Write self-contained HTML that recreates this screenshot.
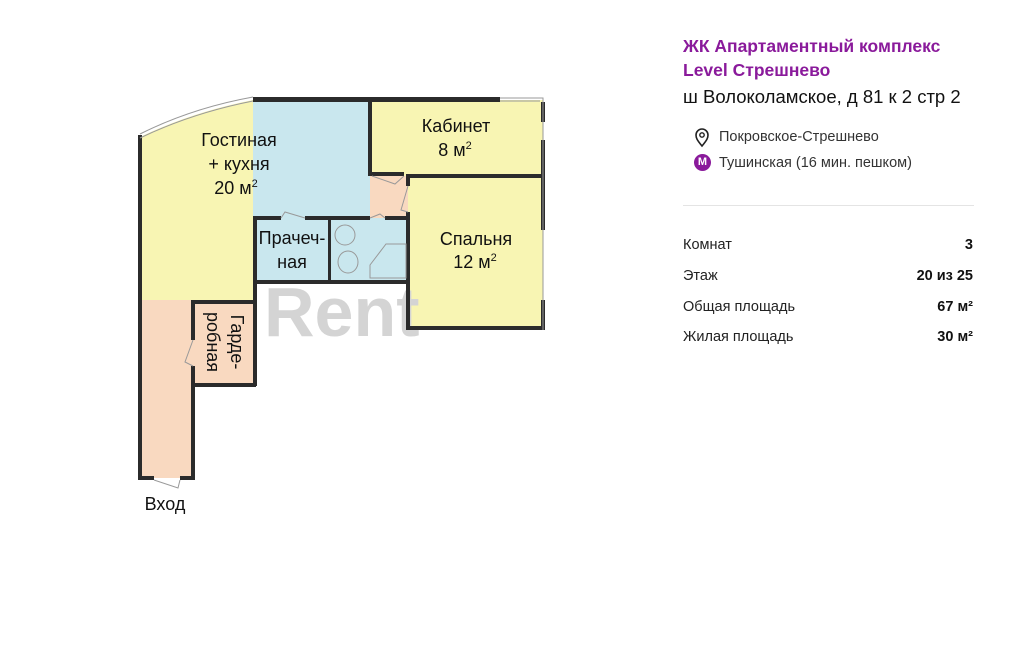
<!DOCTYPE html>
<html><head><meta charset="utf-8"><style>
html,body{margin:0;padding:0;background:#fff;width:1024px;height:648px;overflow:hidden;font-family:"Liberation Sans",sans-serif}
.r{position:absolute;left:683px;font-size:14.5px;color:#222}
.v{position:absolute;right:51px;font-size:14.5px;font-weight:bold;color:#111}
</style></head><body>
<svg width="1024" height="648" style="position:absolute;left:0;top:0" font-family="Liberation Sans, sans-serif">
<path d="M140,137 Q192,112 253,100 L253,300 L140,300 Z" fill="#f8f5b3"/>
<rect x="253" y="100" width="117" height="118" fill="#c9e7ee"/>
<rect x="370" y="100" width="173" height="76" fill="#f8f5b3"/>
<rect x="408" y="176" width="135" height="152" fill="#f8f5b3"/>
<rect x="370" y="176" width="38" height="42" fill="#f9d9c0"/>
<rect x="255" y="218" width="153" height="64" fill="#c9e7ee"/>
<rect x="140" y="300" width="53" height="178" fill="#f9d9c0"/>
<rect x="193" y="300" width="62" height="85" fill="#f9d9c0"/>
<text x="264" y="336" font-size="70" font-weight="bold" fill="#d4d4d4">Rent</text>
<g fill="#2b2b2b">
<rect x="138" y="135" width="4" height="345"/>
<rect x="253" y="97" width="247" height="5"/>
<rect x="368" y="100" width="4" height="76"/>
<rect x="368" y="172" width="36" height="4"/>
<rect x="408" y="174" width="137" height="4"/>
<rect x="406" y="174" width="4" height="12"/>
<rect x="406" y="212" width="4" height="118"/>
<rect x="541" y="102" width="4" height="20"/>
<rect x="541" y="140" width="4" height="90"/>
<rect x="541" y="300" width="4" height="30"/>
<rect x="406" y="326" width="139" height="4"/>
<rect x="253" y="216" width="28" height="4"/>
<rect x="305" y="216" width="65" height="4"/>
<rect x="385" y="216" width="23" height="4"/>
<rect x="253" y="216" width="4" height="170"/>
<rect x="328" y="218" width="3" height="64"/>
<rect x="253" y="280" width="155" height="4"/>
<rect x="191" y="300" width="65" height="4"/>
<rect x="191" y="300" width="4" height="40"/>
<rect x="191" y="366" width="4" height="114"/>
<rect x="191" y="383" width="65" height="4"/>
<rect x="138" y="476" width="16" height="4"/>
<rect x="180" y="476" width="15" height="4"/>
</g>
<g fill="none" stroke="#999" stroke-width="1">
<path d="M140,134 Q192,108 253,97"/><path d="M140,138 Q192,113 253,101"/>
<path d="M500,98 H543 V330"/><path d="M500,101 H540"/>
<path d="M281,218 L285,212 L305,218"/>
<path d="M372,176 L395,184 L404,176"/>
<path d="M408,186 L401,210 L408,212"/>
<path d="M370,218 L380,214 L385,218"/>
<path d="M193,340 L185,362 L193,366"/>
<path d="M154,480 L178,488 L180,480"/>
<circle cx="345" cy="235" r="10"/><ellipse cx="348" cy="262" rx="10" ry="11"/>
<path d="M370,265 L386,244 L406,244 L406,278 L370,278 Z"/>
</g>
<g font-size="18" fill="#111" text-anchor="middle">
<text x="239" y="146">Гостиная</text>
<text x="239" y="170">+ кухня</text>
<text x="236" y="194">20 м<tspan font-size="11" dy="-7">2</tspan></text>
<text x="456" y="132">Кабинет</text>
<text x="455" y="156">8 м<tspan font-size="11" dy="-7">2</tspan></text>
<text x="476" y="245">Спальня</text>
<text x="475" y="268">12 м<tspan font-size="11" dy="-7">2</tspan></text>
<text x="292" y="244">Прачеч-</text>
<text x="292" y="268">ная</text>
<text x="165" y="510">Вход</text>
<text transform="translate(231,342) rotate(90)">Гарде-</text>
<text transform="translate(207,342) rotate(90)">робная</text>
</g>
</svg>
<div style="position:absolute;left:683px;top:34px;font-size:17.5px;font-weight:bold;color:#8a1a9b;line-height:24px">ЖК Апартаментный комплекс<br>Level Стрешнево</div>
<div style="position:absolute;left:683px;top:86px;font-size:18.5px;color:#111">ш Волоколамское, д 81 к 2 стр 2</div>
<svg style="position:absolute;left:693px;top:128px" width="18" height="20"><path d="M9,18 C4,12 3,10 3,7 A6,6 0 0 1 15,7 C15,10 14,12 9,18Z" fill="none" stroke="#222" stroke-width="1.6"/><circle cx="9" cy="7" r="2.2" fill="none" stroke="#222" stroke-width="1.4"/></svg>
<div style="position:absolute;left:719px;top:129px;font-size:14.5px;color:#333">Покровское-Стрешнево</div>
<div style="position:absolute;left:694px;top:154px;width:17px;height:17px;border-radius:50%;background:#8a1a9b;color:#fff;font-size:11px;font-weight:bold;text-align:center;line-height:17px">M</div>
<div style="position:absolute;left:719px;top:155px;font-size:14.5px;color:#333">Тушинская (16 мин. пешком)</div>
<div style="position:absolute;left:683px;top:205px;width:291px;height:1px;background:#e4e4e4"></div>
<div class="r" style="top:237px">Комнат</div><div class="v" style="top:237px">3</div>
<div class="r" style="top:268px">Этаж</div><div class="v" style="top:268px">20 из 25</div>
<div class="r" style="top:299px">Общая площадь</div><div class="v" style="top:299px">67 м²</div>
<div class="r" style="top:329px">Жилая площадь</div><div class="v" style="top:329px">30 м²</div>
</body></html>
